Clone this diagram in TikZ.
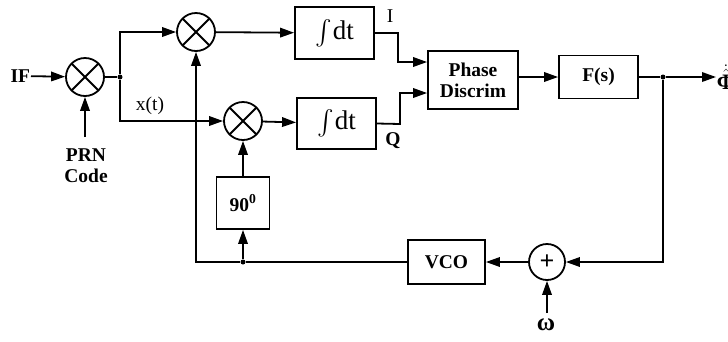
\documentclass[tikz,border=0pt]{standalone}
\usepackage{amsmath}
\usepackage{fontspec}
\setmainfont{Liberation Serif}
\usetikzlibrary{arrows.meta}
\begin{document}
\begin{tikzpicture}[x=1pt,y=-1pt,
  line width=1.8pt,
  font=\fontsize{19.5}{21}\selectfont\bfseries,
  arr/.style={-{Triangle[length=14pt,width=9.5pt]}},
  blk/.style={draw,rectangle,inner sep=0pt},
  mixer/.style={draw,circle,minimum size=38pt,inner sep=0pt,
    path picture={\draw[line width=1.8pt] (path picture bounding box.north west)--(path picture bounding box.south east)
      (path picture bounding box.north east)--(path picture bounding box.south west);}},
  summer/.style={draw,circle,minimum size=36pt,inner sep=0pt},
  jdot/.style={circle,fill,inner sep=0pt,minimum size=5pt},
  intg/.style={font=\fontsize{27}{29}\selectfont\mdseries}
]
\useasboundingbox (0,0) rectangle (728,341);
% nodes
\node[mixer] (mixA) at (85,77) {};
\node[mixer] (mixB) at (196,32) {};
\node[mixer] (mixC) at (243,121) {};
\node[blk,minimum width=79pt,minimum height=52pt,intg] (int1) at (334.5,33) {$\int$\hspace{1pt}dt};
\node[blk,minimum width=79pt,minimum height=51pt,intg] (int2) at (336.5,123.5) {$\int$\hspace{1pt}dt};
\node[blk,minimum width=90pt,minimum height=58pt,align=center] (pd) at (473,80) {Phase\\Discrim};
\node[blk,minimum width=79pt,minimum height=43pt] (fs) at (598.5,77) {F(s)};
\node[blk,minimum width=77pt,minimum height=44pt] (vco) at (446.5,262) {VCO};
\node[blk,minimum width=53pt,minimum height=52pt] (ph) at (243,203) {90\textsuperscript{0}};
\node[summer] (sum) at (547,262) {\fontsize{26}{28}\selectfont +};
\node[anchor=east,inner sep=0pt] (IF) at (31,76) {IF};
\node[align=center,inner sep=0pt] (prn) at (86,166) {PRN\\Code};
\node[inner sep=0pt,font=\fontsize{25}{27}\selectfont\bfseries] (omega) at (546,325) {ω};
\node[anchor=west,inner sep=0pt,font=\fontsize{22}{24}\selectfont] (phi) at (716,77) {$\dot{\hat{\text{\bfseries Φ}}}$};
\node[font=\fontsize{19.5}{21}\selectfont\mdseries] (xt) at (150,106) {x(t)};
\node[font=\fontsize{19.5}{21}\selectfont\mdseries] (Il) at (390,16) {I};
\node (Ql) at (393,141) {Q};
% junctions
\node[jdot] (j1) at (120,77) {};
\node[jdot] (j2) at (663,77) {};
\node[jdot] (j3) at (243,262) {};
\coordinate (c1) at (398,33);
\coordinate (c2) at (398,62);
\coordinate (c3) at (400,124);
\coordinate (c4) at (400,93);
\coordinate (c5) at (663,262);
\coordinate (c6) at (196,262);
\coordinate (om) at (547,313);
\coordinate (pa) at (85,137);
\coordinate (oe) at (716,77);
% connectors
\draw[arr] (IF) -- (mixA);
\draw[arr] (pa) -- (mixA.south);
\draw (mixA.east) -- (j1);
\draw[arr] (j1) |- (mixB.west);
\draw[arr] (j1) |- (mixC.west);
\draw[arr] (mixB) -- (int1);
\draw[arr] (mixC) -- (int2);
\draw[arr] (int1.east) -- (c1) -- (c2) -- (c2 -| pd.west);
\draw[arr] (int2.east) -- (c3) -- (c4) -- (c4 -| pd.west);
\draw[arr] (pd.east |- fs) -- (fs);
\draw (fs) -- (j2);
\draw[arr] (j2) -- (oe);
\draw[arr] (j2) -- (c5) -- (sum.east);
\draw[arr] (sum) -- (vco);
\draw[arr] (om) -- (sum.south);
\draw[arr] (vco.west) -- (j3) -- (c6) -- (mixB.south);
\draw[arr] (j3) -- (ph.south);
\draw[arr] (ph.north) -- (mixC.south);
\end{tikzpicture}
\end{document}
